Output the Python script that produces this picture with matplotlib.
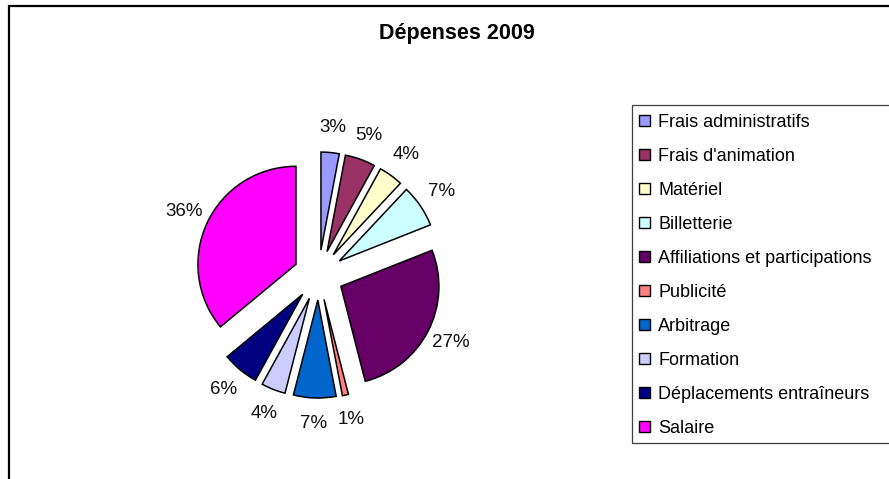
import matplotlib
matplotlib.use("Agg")
import matplotlib.pyplot as plt
from matplotlib.patches import Rectangle

plt.rcParams['font.family'] = ['Liberation Sans', 'DejaVu Sans']

# Dépenses 2009 (en %)
categories = ['Frais administratifs', "Frais d'animation", 'Matériel', 'Billetterie',
              'Affiliations et participations', 'Publicité', 'Arbitrage', 'Formation',
              'Déplacements entraîneurs', 'Salaire']
values = [3, 5, 4, 7, 27, 1, 7, 4, 6, 36]
colors = ['#9999FF', '#993366', '#FFFFCC', '#CCFFFF', '#660066',
          '#FF8080', '#0066CC', '#CCCCFF', '#000080', '#FF00FF']

W, H = 889, 479
fig = plt.figure(figsize=(W / 100, H / 100), dpi=100)

# outer chart frame (cut on right and bottom like the original)
fig.add_artist(Rectangle((9 / W, -0.1), 1.2, 1 - 6 / H + 0.1, transform=fig.transFigure,
                         fill=False, ec='black', lw=1.6))

# pie axes: square, centred on the pie
size = 300
cx, cy = 318.6, H - 275
ax = fig.add_axes([(cx - size / 2) / W, (cy - size / 2) / H, size / W, size / H])
wedges, texts, autotexts = ax.pie(values, colors=colors, startangle=90, counterclock=False,
                                  explode=[0.255] * len(values), autopct='%.0f%%',
                                  pctdistance=1.26,
                                  wedgeprops=dict(edgecolor='black', linewidth=1.1),
                                  textprops=dict(fontsize=13.5, color='#111111'))
ax.set_xlim(-1.53, 1.53)
ax.set_ylim(-1.53, 1.53)
ax.axis('off')

fig.text(457 / W, 1 - 34 / H, 'Dépenses 2009', ha='center', va='center',
         fontsize=15.5, fontweight='bold')

# legend box (extends past the right edge)
fig.add_artist(Rectangle((632 / W, 1 - 443 / H), 0.5, (443 - 105) / H,
                         transform=fig.transFigure, fill=False, ec='#404040', lw=0.9))
leg = fig.legend(wedges, categories, loc='upper left',
                 bbox_to_anchor=(639 / W, 1 - 114 / H), frameon=False,
                 fontsize=13, borderpad=0, borderaxespad=0,
                 handlelength=0.62, handleheight=0.62, handletextpad=0.45,
                 labelspacing=0.94)
for h in leg.legend_handles:
    h.set_linewidth(1.0)

fig.savefig('out.png', dpi=100)
